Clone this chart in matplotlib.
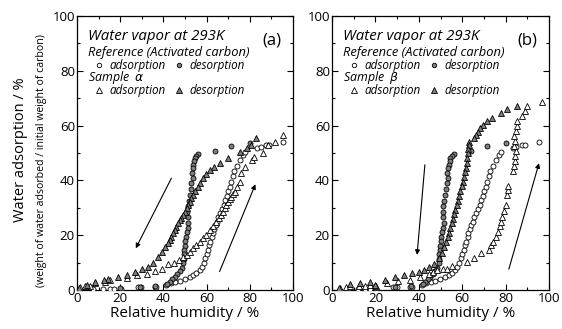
import matplotlib
matplotlib.use('Agg')
import matplotlib.pyplot as plt
from matplotlib.lines import Line2D
from matplotlib.legend import Legend
from matplotlib.ticker import MultipleLocator

plt.rcParams['font.family'] = ['Open Sans', 'DejaVu Sans']
plt.rcParams['mathtext.fontset'] = 'dejavusans'

# ---------------- data ----------------
# Reference (activated carbon) - same in both panels
ref_ads_x = [7.5, 12.2, 15.3, 17.3, 20.2, 28.3, 29.8, 36.0, 36.8, 41.4,
             43.5, 45.4, 47.5, 49.8, 52.2, 53.7, 55.2, 56.8, 57.8, 58.6,
             59.3, 60.0, 60.6, 61.2, 61.7, 62.5, 62.9, 63.5, 64.2, 64.8,
             65.5, 66.3, 67.2, 68.0, 68.7, 69.4, 70.1, 70.8, 71.4, 72.2,
             72.9, 74.0, 75.5, 76.8, 78.0, 83.5, 85.0, 87.5, 89.0, 95.5]
ref_ads_y = [0.5, 0.5, 0.5, 0.5, 0.5, 1.0, 1.0, 1.2, 1.2, 2.0,
             2.4, 2.9, 3.3, 3.9, 4.6, 5.3, 6.1, 7.2, 8.5, 10.0,
             11.5, 13.0, 14.6, 16.3, 17.7, 19.3, 20.8, 22.2, 23.6, 25.0,
             26.5, 28.0, 29.6, 31.2, 32.8, 34.4, 36.0, 37.7, 39.4, 41.5,
             43.5, 45.3, 47.5, 49.2, 50.3, 51.7, 52.2, 53.0, 52.8, 54.1]

ref_des_x = [80.0, 71.5, 64.0, 56.2, 55.3, 54.6, 54.2, 53.8, 53.5, 53.2,
             53.6, 53.0, 52.6, 52.2, 51.7, 51.2, 51.0, 51.3, 51.5, 51.2,
             50.8, 50.4, 50.1, 49.8, 49.6, 49.4, 49.5, 49.2, 48.5, 47.5,
             46.5, 45.3, 44.2, 43.0, 41.8, 36.3, 29.2, 20.0]
ref_des_y = [53.5, 52.4, 50.6, 49.6, 48.9, 48.0, 47.0, 45.8, 44.4, 42.8,
             41.0, 39.0, 36.8, 34.6, 32.5, 30.5, 28.5, 26.5, 24.5, 22.6,
             21.0, 19.4, 17.8, 16.2, 14.6, 13.0, 11.4, 9.8, 8.2, 6.8,
             5.8, 4.8, 3.9, 3.0, 2.2, 1.3, 1.0, 0.8]

# Sample alpha
a_ads_x = [1.5, 3.8, 6.1, 8.5, 13.1, 15.4, 23.1, 27.7, 32.3, 36.0,
           39.3, 42.3, 44.7, 47.0, 49.0, 50.7, 52.2, 53.7, 55.3, 56.8,
           58.3, 59.9, 61.4, 63.0, 64.5, 65.7, 66.8, 67.6, 68.4, 69.2,
           69.9, 70.7, 71.4, 72.2, 73.0, 74.2, 75.3, 76.1, 77.6, 81.1,
           82.0, 86.0, 88.4, 91.5, 95.3]
a_ads_y = [1.0, 1.5, 1.5, 2.7, 3.0, 3.6, 4.5, 5.3, 5.8, 6.8,
           7.8, 9.5, 10.0, 11.0, 12.0, 12.8, 14.0, 15.2, 16.4, 17.6,
           18.8, 20.1, 21.9, 23.4, 24.9, 26.2, 27.4, 28.6, 29.8, 31.0,
           32.2, 33.2, 34.1, 35.0, 35.9, 37.7, 39.5, 42.6, 45.0, 47.4,
           48.4, 49.9, 52.9, 54.1, 56.6]

a_des_x = [83.0, 80.7, 78.7, 75.3, 70.0, 66.0, 63.5, 61.4, 59.8, 58.3,
           57.0, 56.0, 54.8, 53.7, 52.9, 52.2, 51.4, 50.7, 49.9, 49.1,
           48.3, 47.6, 46.8, 46.0, 45.2, 44.5, 43.7, 43.0, 42.0, 40.8,
           39.3, 37.7, 35.4, 33.1, 30.0, 26.9, 23.1, 19.2, 14.5, 12.3,
           8.5, 4.6, 0.8]
a_des_y = [55.4, 52.9, 51.7, 50.5, 48.1, 46.5, 45.0, 43.8, 42.2, 40.8,
           39.2, 37.7, 36.2, 34.7, 33.5, 32.2, 31.0, 29.8, 28.6, 27.4,
           26.4, 25.5, 24.3, 23.1, 21.9, 20.7, 19.5, 18.2, 17.0, 15.8,
           14.0, 12.2, 9.7, 8.5, 7.5, 6.7, 5.6, 4.6, 4.0, 3.6,
           3.0, 1.8, 0.6]

# Sample beta
b_ads_x = [3.5, 6.5, 8.5, 12.5, 15.0, 17.5, 20.5, 25.5, 30.5, 36.0,
           40.5, 44.5, 46.5, 48.5, 51.0, 53.0, 55.5, 62.3, 65.4, 68.5,
           72.3, 73.1, 74.3, 75.4, 76.5, 77.4, 78.0, 78.5, 79.2, 80.0,
           80.8, 81.1, 81.3, 83.5, 83.8, 84.2, 84.2, 84.6, 83.8, 84.2,
           83.8, 84.6, 85.4, 85.1, 87.7, 88.8, 90.0, 97.0]
b_ads_y = [0.6, 1.0, 1.5, 1.5, 1.3, 2.0, 1.5, 2.5, 3.2, 3.6,
           4.8, 5.8, 6.5, 7.2, 7.5, 7.6, 8.8, 10.4, 11.6, 13.4,
           14.6, 16.5, 17.7, 19.5, 21.3, 23.2, 25.0, 26.8, 28.7, 31.1,
           34.8, 36.6, 37.8, 43.3, 45.1, 47.0, 48.8, 50.6, 52.4, 54.3,
           56.1, 57.9, 59.8, 61.6, 63.4, 65.2, 67.1, 68.5]

b_des_x = [85.4, 80.8, 77.7, 73.8, 71.2, 69.5, 68.2, 67.2, 66.3, 65.4,
           63.3, 63.1, 62.8, 62.5, 62.3, 62.0, 61.7, 61.2, 60.8, 60.2,
           59.7, 59.2, 58.6, 58.0, 57.4, 56.8, 56.2, 55.7, 55.2, 54.6,
           54.0, 53.3, 52.6, 51.8, 50.8, 49.2, 46.9, 44.6, 42.3, 40.0,
           36.9, 33.1, 29.2, 24.6, 20.0, 17.5, 13.0, 8.3, 3.0]
b_des_y = [67.1, 65.9, 64.6, 62.8, 61.6, 60.3, 59.0, 57.8, 56.7, 55.5,
           54.0, 53.0, 51.5, 50.0, 48.3, 46.5, 44.7, 43.0, 41.2, 39.5,
           37.8, 36.0, 34.3, 32.6, 31.0, 29.3, 27.6, 26.0, 24.3, 22.6,
           20.9, 19.2, 17.4, 15.6, 13.6, 11.6, 9.5, 8.3, 7.3, 6.7,
           6.1, 5.5, 4.6, 3.6, 2.0, 3.0, 2.7, 2.2, 0.8]

# arrows: (tail, head) in data coords
a_arrows = [((43.7, 40.8), (27.2, 15.2)), ((66.0, 6.7), (82.6, 38.6))]
b_arrows = [((42.8, 45.7), (39.2, 12.8)), ((81.5, 7.6), (95.4, 46.3))]

panel_labels = ['(a)', '(b)']
sample_names = [r'Sample  $\alpha$', r'Sample  $\beta$']
entry_labels = ['adsorption', 'desorption']
xticks = [0, 20, 40, 60, 80, 100]
yticks = [0, 20, 40, 60, 80, 100]

# ---------------- figure ----------------
W, H = 562, 329
fig = plt.figure(figsize=(W / 100, H / 100), dpi=100)

def frac(l, r, t, b):
    return [l / W, 1 - b / H, (r - l) / W, (b - t) / H]

axes = [fig.add_axes(frac(77, 293, 16, 290)),
        fig.add_axes(frac(332, 549, 16, 290))]

gray = '#7f7f7f'
ms_c = 3.6
ms_t = 4.6
mew = 0.6

datasets = [(a_ads_x, a_ads_y, a_des_x, a_des_y, a_arrows),
            (b_ads_x, b_ads_y, b_des_x, b_des_y, b_arrows)]

for i, ax in enumerate(axes):
    sx, sy, dx, dy, arrows = datasets[i]
    ax.plot(ref_ads_x, ref_ads_y, 'o', ms=ms_c, mfc='white', mec='black', mew=mew, zorder=3)
    ax.plot(ref_des_x, ref_des_y, 'o', ms=ms_c, mfc=gray, mec='black', mew=mew, zorder=3)
    ax.plot(sx, sy, '^', ms=ms_t, mfc='white', mec='black', mew=mew, zorder=3)
    ax.plot(dx, dy, '^', ms=ms_t, mfc=gray, mec='black', mew=mew, zorder=3)

    for tail, head in arrows:
        ax.annotate('', xy=head, xytext=tail,
                    arrowprops=dict(arrowstyle='-|>', lw=0.8, color='black',
                                    mutation_scale=7, shrinkA=0, shrinkB=0))

    ax.set_xlim(0, 100)
    ax.set_ylim(0, 100)
    ax.set_xticks(xticks)
    ax.set_yticks(yticks)
    ax.xaxis.set_minor_locator(MultipleLocator(10))
    ax.yaxis.set_minor_locator(MultipleLocator(10))
    ax.tick_params(which='both', direction='in', top=True, right=True,
                   labelsize=9.5, width=0.8, pad=1.5)
    ax.tick_params(which='major', length=4)
    ax.tick_params(which='minor', length=2.5)
    for s in ax.spines.values():
        s.set_linewidth(0.9)

    ax.text(0.05, 0.924, 'Water vapor at 293K', transform=ax.transAxes,
            fontsize=10.8, style='italic', ha='left', va='center')
    ax.text(0.945, 0.912, panel_labels[i], transform=ax.transAxes,
            fontsize=12, ha='right', va='center')
    ax.text(0.05, 0.867, 'Reference (Activated carbon)', transform=ax.transAxes,
            fontsize=9.3, style='italic', ha='left', va='center')
    ax.text(0.05, 0.776, sample_names[i], transform=ax.transAxes,
            fontsize=8.9, style='italic', ha='left', va='center')

    handles = [
        [Line2D([], [], ls='none', marker='o', ms=3.2, mfc='white', mec='black', mew=mew),
         Line2D([], [], ls='none', marker='o', ms=3.2, mfc=gray, mec='black', mew=mew)],
        [Line2D([], [], ls='none', marker='^', ms=4.0, mfc='white', mec='black', mew=mew),
         Line2D([], [], ls='none', marker='^', ms=4.0, mfc=gray, mec='black', mew=mew)],
    ]
    row_y = [0.820, 0.728]
    col_x = [0.080, 0.450]
    for r in range(2):
        for c in range(2):
            leg = Legend(ax, [handles[r][c]], [entry_labels[c]],
                         loc='center left', bbox_to_anchor=(col_x[c], row_y[r]),
                         bbox_transform=ax.transAxes,
                         frameon=False, borderpad=0, borderaxespad=0,
                         handlelength=0.8, handletextpad=0.5,
                         prop={'style': 'italic', 'size': 8.4})
            ax.add_artist(leg)

    ax.set_xlabel('Relative humidity / %', fontsize=11)
    ax.xaxis.set_label_coords(0.5, -0.058)

fig.text(21 / W, 1 - 150 / H, 'Water adsorption / %', rotation=90,
         ha='center', va='center', fontsize=10.5)
fig.text(42 / W, 1 - 161 / H,
         '(weight of water adsorbed / initial weight of carbon)', rotation=90,
         ha='center', va='center', fontsize=7.6)

fig.savefig('out.png', dpi=100)
